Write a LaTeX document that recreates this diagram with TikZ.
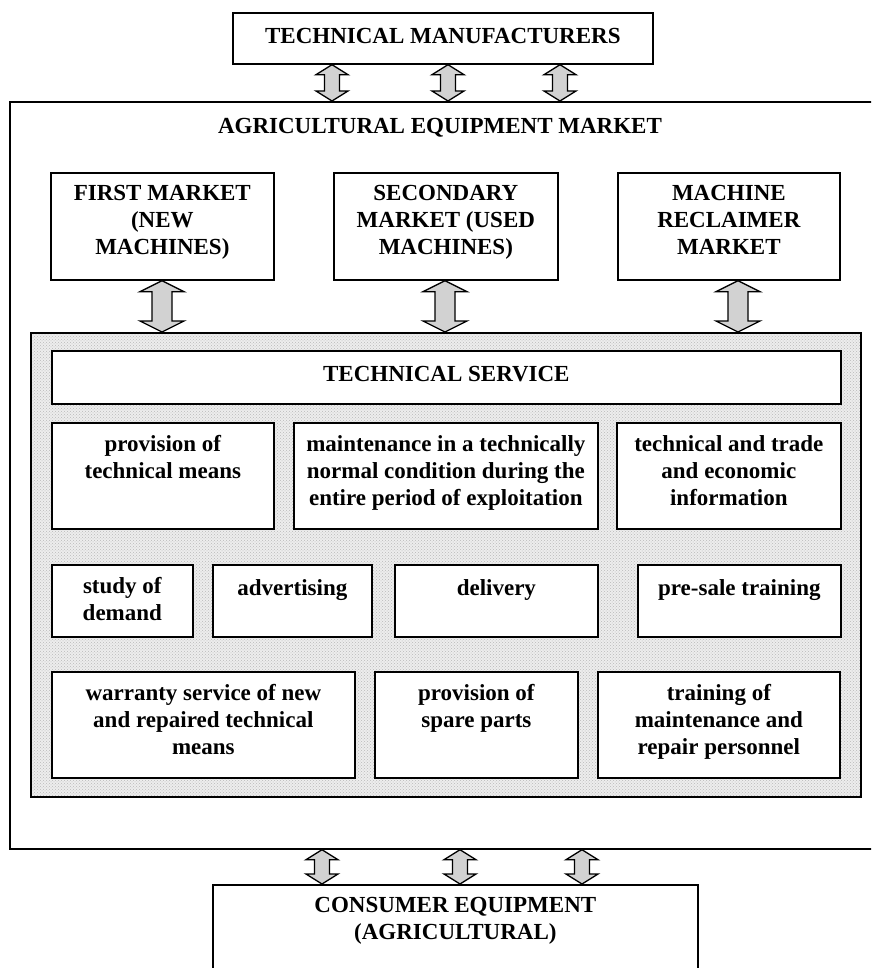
\documentclass[tikz,border=0pt]{standalone}
\usepackage{fontspec}
\setmainfont{Liberation Serif}
\usetikzlibrary{calc,patterns}

\tikzset{
  frame/.style={draw=black, line width=1.7pt, fill=white, inner sep=0pt, anchor=north west},
  lbl/.style={anchor=north, align=center, inner sep=0pt,
    font=\bfseries\fontsize{23}{27}\selectfont,
    execute at begin node={\rule{0pt}{18pt}}},
  flow/.style={draw=black, line width=1.3pt, fill=gray!35, line join=miter},
}

% a framed box given by its corners (x1,y1) (x2,y2), y measured downwards
\newcommand\boxat[5]{%
  \node[frame, minimum width={(#4-#2)*1pt}, minimum height={(#5-#3)*1pt}] (#1) at (#2,#3) {};}
% a label whose first baseline lies #3 below the top of box #1
\newcommand\boxtext[3]{%
  \node[lbl] (#1-t) at ($(#1.north)+(0,#3-18)$) {#2};}
% a two-headed block arrow from #1 (top) to #2 (bottom);
% #3 half head width, #4 half shaft width, #5 head length
\newcommand\dbl[5]{%
  \draw[flow] (#1) -- ++(#3,#5) -- ++(-#3+#4,0) -- ($(#2)+(#4,-#5)$)
    -- ++(#3-#4,0) -- (#2) -- ++(-#3,-#5) -- ++(#3-#4,0)
    -- ($(#1)+(-#4,#5)$) -- ++(-#3+#4,0) -- cycle;}

\begin{document}
\begin{tikzpicture}[x=1pt, y=-1pt]
\useasboundingbox (0,0) rectangle (871,968);
\clip (0,0) rectangle (871,968);
\fill[white] (0,0) rectangle (871,968);

% manufacturers and the market frame
\boxat{tm}{232}{12}{652}{63}
\boxtext{tm}{TECHNICAL MANUFACTURERS}{31}
\node[frame, minimum width=871pt, minimum height=747pt, fill=none] (aem) at (9,101) {};
\node[lbl] (aem-t) at (440,115) {AGRICULTURAL EQUIPMENT MARKET};

% three markets
\boxat{fmk}{50}{172}{273}{279}
\boxtext{fmk}{FIRST MARKET\\(NEW\\MACHINES)}{31}
\boxat{smk}{333}{172}{557}{279}
\boxtext{smk}{SECONDARY\\MARKET (USED\\MACHINES)}{31}
\boxat{rmk}{617}{172}{839}{279}
\boxtext{rmk}{MACHINE\\RECLAIMER\\MARKET}{31}

% technical service area
\path[fill=gray!14] (30,332) rectangle (860,796);
\path[pattern=crosshatch dots, pattern color=gray!55] (30,332) rectangle (860,796);
\node[frame, fill=none, minimum width=830pt, minimum height=464pt] (ts) at (30,332) {};

\boxat{tsh}{51}{350}{840}{403}
\boxtext{tsh}{TECHNICAL SERVICE}{31}

\boxat{r1a}{51}{422}{273}{528}
\boxtext{r1a}{provision of\\technical means}{31}
\boxat{r1b}{293}{422}{597}{528}
\boxtext{r1b}{maintenance in a technically\\normal condition during the\\entire period of exploitation}{31}
\boxat{r1c}{616}{422}{840}{528}
\boxtext{r1c}{technical and trade\\and economic\\information}{31}

\boxat{r2a}{51}{564}{192}{636}
\boxtext{r2a}{study of\\demand}{31}
\boxat{r2b}{212}{564}{371}{636}
\boxtext{r2b}{advertising}{31}
\boxat{r2c}{394}{564}{597}{636}
\boxtext{r2c}{delivery}{31}
\boxat{r2d}{637}{564}{840}{636}
\boxtext{r2d}{pre-sale training}{31}

\boxat{r3a}{51}{671}{354}{777}
\boxtext{r3a}{warranty service of new\\and repaired technical\\means}{31}
\boxat{r3b}{374}{671}{577}{777}
\boxtext{r3b}{provision of\\spare parts}{31}
\boxat{r3c}{597}{671}{839}{777}
\boxtext{r3c}{training of\\maintenance and\\repair personnel}{31}

% consumers
\boxat{ce}{212}{884}{697}{990}
\boxtext{ce}{CONSUMER EQUIPMENT\\(AGRICULTURAL)}{31}

% arrows: manufacturers <-> market
\foreach \x [count=\i] in {332,448,560} {
  \coordinate (ut\i) at (\x,0 |- tm.south);
  \coordinate (ub\i) at (\x,0 |- aem.north);
  \dbl{ut\i}{ub\i}{16}{7.5}{10}
}
% arrows: markets <-> technical service
\foreach \x/\m [count=\i] in {162/fmk,445/smk,738/rmk} {
  \coordinate (mt\i) at (\x,0 |- \m.south);
  \coordinate (mb\i) at (\x,0 |- ts.north);
  \dbl{mt\i}{mb\i}{22}{10}{11}
}
% arrows: market <-> consumers
\foreach \x [count=\i] in {322,460,582} {
  \coordinate (lt\i) at (\x,0 |- aem.south);
  \coordinate (lb\i) at (\x,0 |- ce.north);
  \dbl{lt\i}{lb\i}{16}{7.5}{10}
}
\end{tikzpicture}
\end{document}
